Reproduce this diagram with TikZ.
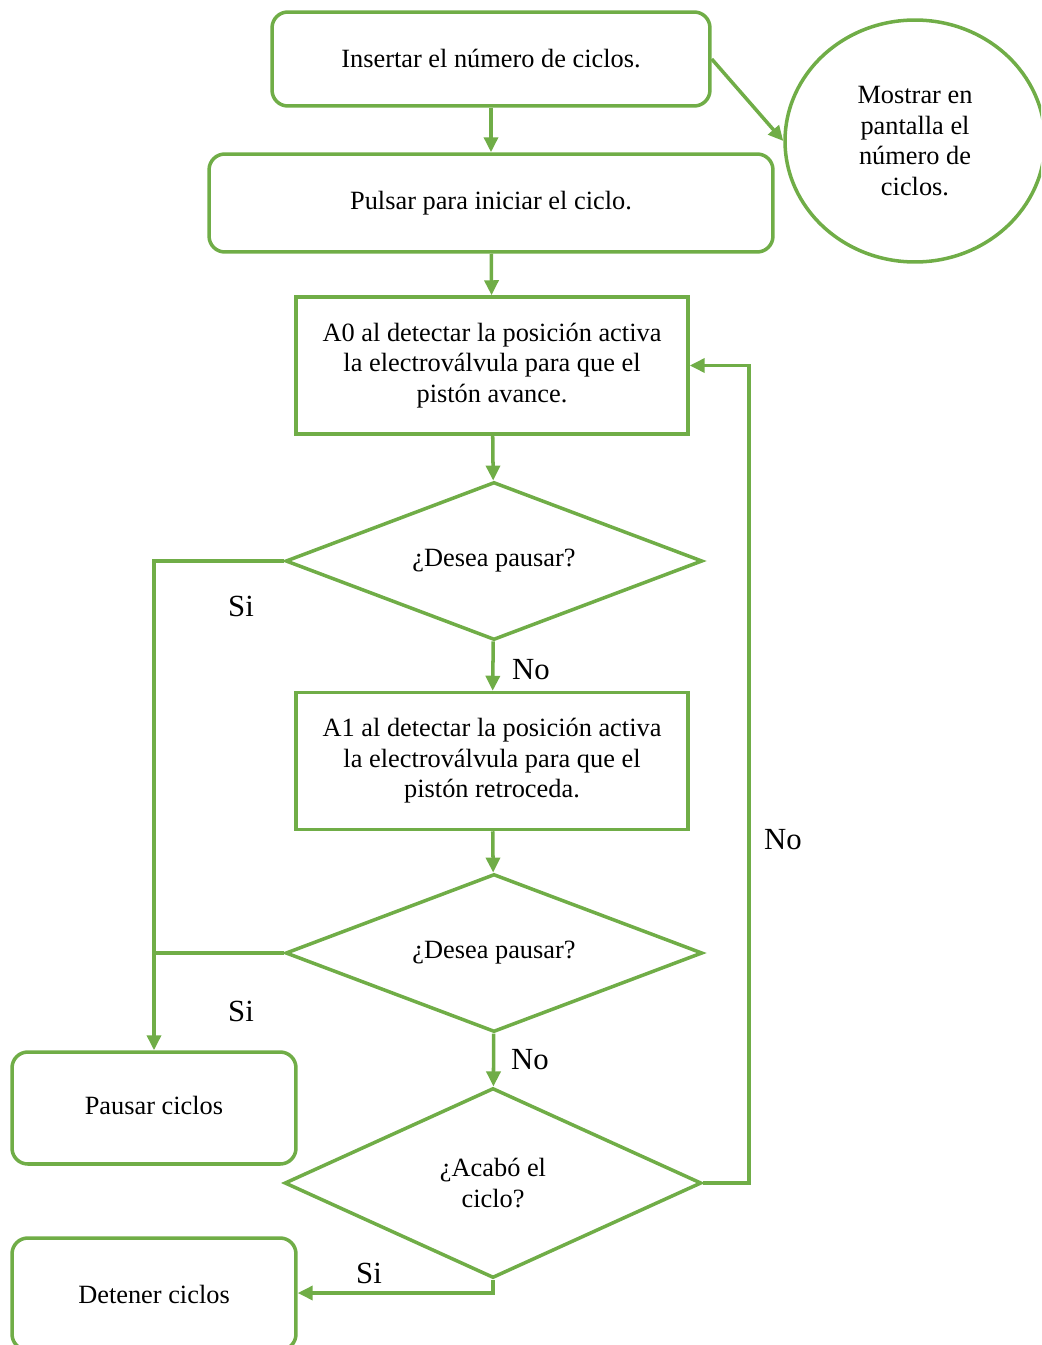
\documentclass[tikz,border=0pt]{standalone}
\usepackage{fontspec}
\setmainfont{Liberation Serif}
\usepackage{xcolor}
\usetikzlibrary{arrows.meta,positioning,shapes.geometric}
\definecolor{leaf}{HTML}{70AD47}
\tikzset{
  flow diagram/.style={
    x=0.02cm, y=-0.02cm,
    font=\fontsize{15}{17.3}\selectfont,
    >={Triangle[length=3mm,width=2.8mm]},
    line join=miter
  },
  roundbox/.style={
    draw=leaf,
    line width=2pt,
    rounded corners=9pt,
    align=center,
    inner sep=4pt
  },
  actionbox/.style={
    draw=leaf,
    line width=2pt,
    align=center,
    minimum width=7.84cm,
    minimum height=2.74cm
  },
  askbox/.style={
    draw=leaf,
    diamond,
    aspect=2.6,
    line width=2pt,
    align=center,
    inner sep=0pt,
    minimum width=8.34cm
  },
  showbox/.style={
    draw=leaf,
    ellipse,
    line width=2pt,
    align=center,
    minimum width=5.2cm,
    minimum height=4.84cm
  },
  flowarrow/.style={
    ->,
    draw=leaf,
    line width=2pt
  },
  answer/.style={
    font=\fontsize{17.5}{20}\selectfont,
    inner sep=0pt
  }
}
\begin{document}
\begin{tikzpicture}[flow diagram]
\useasboundingbox (0,0) rectangle (1041,1345);
\clip (0,0) rectangle (1041,1345);
\node[roundbox, minimum width=8.76cm, minimum height=1.88cm] (insert) at (491,59) {Insertar el número de ciclos.};
\node[roundbox, minimum width=11.28cm, minimum height=1.96cm] (start) at (491,203) {Pulsar para iniciar el ciclo.};
\node[showbox] (screen) at (915,141) {Mostrar en\\pantalla el\\número de\\ciclos.};
\node[actionbox] (advance) at (492,365.5) {A0 al detectar la posición activa\\la electroválvula para que el\\pistón avance.};
\node[askbox, minimum height=3.16cm] (pause1) at (494,561) {¿Desea pausar?};
\node[actionbox] (retract) at (492,761) {A1 al detectar la posición activa\\la electroválvula para que el\\pistón retroceda.};
\node[askbox, minimum height=3.16cm] (pause2) at (494,953) {¿Desea pausar?};
\node[askbox, minimum height=3.8cm] (done) at (493,1183) {¿Acabó el\\ciclo?};
\node[roundbox, minimum width=5.68cm, minimum height=2.24cm] (hold) at (154,1108) {\raisebox{3pt}{Pausar ciclos}};
\node[roundbox, minimum width=5.68cm, minimum height=2.24cm] (stop) at (154,1294) {Detener ciclos};

\coordinate (leftrail) at (154,561);
\coordinate (leftjoin) at (154,953);
\coordinate (backrail) at (749,1183);
\coordinate (stopturn) at (493,1293);

\draw[flowarrow] (insert) -- (start);
\draw[flowarrow] (insert.east) -- (screen.west);
\draw[flowarrow] (start) -- (advance);
\draw[flowarrow] (advance) -- (pause1);
\draw[flowarrow] (pause1) -- (retract);
\draw[flowarrow] (retract) -- (pause2);
\draw[flowarrow] (pause2) -- (done);
\draw[flowarrow] (pause1.west) -- (leftrail) -- (hold.north -| leftrail);
\draw[draw=leaf, line width=2pt] (pause2.west) -- (leftjoin);
\draw[flowarrow] (done.east) -- (backrail) |- (advance.east);
\draw[flowarrow] (done.south) -- (stopturn) -- (stop.east |- stopturn);

\node[answer] (yes1) at (241,606) {Si};
\node[answer] (no1) at (531,670) {No};
\node[answer] (yes2) at (241,1011) {Si};
\node[answer] (no2) at (530,1060) {No};
\node[answer] (no3) at (783,840) {No};
\node[answer] (yes3) at (369,1273) {Si};
\end{tikzpicture}
\end{document}
